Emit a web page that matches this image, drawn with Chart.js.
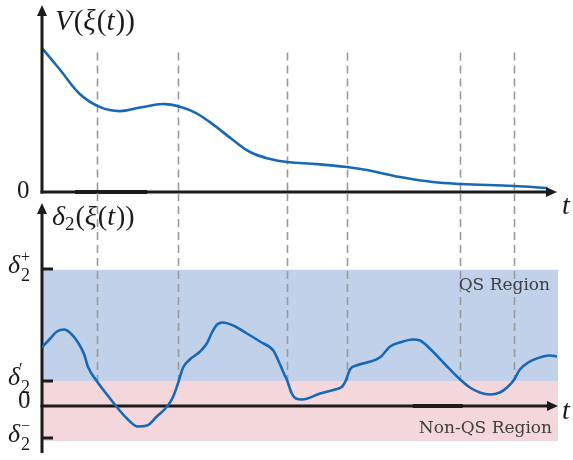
<!DOCTYPE html>
<html>
<head>
<meta charset="utf-8">
<script src="https://cdn.jsdelivr.net/npm/chart.js@4.4.1/dist/chart.umd.min.js"></script>
<style>
  html, body { margin: 0; padding: 0; background: #ffffff; }
  #wrap { position: relative; width: 573px; height: 460px; }
  #wrap canvas { position: absolute; left: 0; top: 0; }
</style>
</head>
<body>
<div id="wrap">
  <canvas id="vChart" width="573" height="460"></canvas>
  <canvas id="dChart" width="573" height="460"></canvas>
</div>
<script>
// Lyapunov-like function V(ξ(t)) over time
const timeV = [0, 0.35, 0.74, 1.13, 1.51, 1.90, 2.39, 2.87, 3.26, 3.71, 4.04, 4.43, 4.76, 5.34, 5.92,
               6.31, 6.95, 7.59, 8.12, 9.17, 9.81];
const valueV = [1.00, 0.85, 0.68, 0.59, 0.5625, 0.587, 0.611, 0.569, 0.486, 0.361, 0.278, 0.229, 0.208, 0.194, 0.174,
                0.153, 0.104, 0.069, 0.056, 0.042, 0.028];

// Quasi-static margin δ2(ξ(t)) over time
const timeD = [0, 0.16, 0.29, 0.43, 0.54, 0.70, 0.82, 0.89, 1.07, 1.26, 1.46, 1.65, 1.86, 2.04, 2.23, 2.43,
               2.54, 2.64, 2.74, 2.87, 3.07, 3.20, 3.30, 3.40, 3.51, 3.75, 3.98, 4.23, 4.49, 4.58, 4.68,
               4.76, 4.85, 4.93, 5.05, 5.40, 5.69, 5.83, 5.90, 5.98, 6.10, 6.31, 6.56, 6.76, 6.95, 7.20,
               7.34, 7.53, 7.83, 8.12, 8.31, 8.50, 8.70, 8.89, 9.03, 9.17, 9.28, 9.44, 9.73, 9.86, 10.0];
const valueD = [2.34, 2.70, 2.98, 3.06, 2.94, 2.54, 2.06, 1.58, 0.98, 0.46, -0.06, -0.50, -0.82, -0.78, -0.42, -0.02,
                0.34, 0.90, 1.54, 1.86, 2.18, 2.50, 2.94, 3.26, 3.34, 3.18, 2.90, 2.58, 2.22, 1.86, 1.38,
                1.02, 0.50, 0.30, 0.26, 0.50, 0.66, 0.78, 1.02, 1.46, 1.62, 1.74, 1.94, 2.38, 2.54, 2.66,
                2.62, 2.30, 1.66, 1.06, 0.74, 0.54, 0.46, 0.54, 0.74, 1.06, 1.46, 1.74, 1.98, 2.02, 1.98];

// switching instants marked by dashed lines
const switchTimes = [1.07, 2.64, 4.76, 5.92, 8.12, 9.17];

// thresholds on δ2 and the shaded bands
const deltaTickValues = [5.5, 1, -1.28];
const deltaTickNames = ['+', '′', '−'];
const qsBand = [1, 5.45];
const nonQsBand = [-1.4, 1];

const AXIS = '#1b1b1b';
const CURVE = '#1769b5';
const DASH = '#9a9a9a';
const SERIF = '"Liberation Serif", "DejaVu Serif", serif';
const CAPTION = '"DejaVu Serif", serif';

function arrowHead(ctx, x, y, dir) {
  ctx.save();
  ctx.fillStyle = AXIS;
  ctx.beginPath();
  if (dir === 'up') {
    ctx.moveTo(x, y); ctx.lineTo(x - 5, y + 11); ctx.lineTo(x + 5, y + 11);
  } else {
    ctx.moveTo(x, y); ctx.lineTo(x - 11, y - 5); ctx.lineTo(x - 11, y + 5);
  }
  ctx.closePath();
  ctx.fill();
  ctx.restore();
}

function line(ctx, x1, y1, x2, y2, w) {
  ctx.save();
  ctx.strokeStyle = AXIS;
  ctx.lineWidth = w;
  ctx.beginPath();
  ctx.moveTo(x1, y1); ctx.lineTo(x2, y2);
  ctx.stroke();
  ctx.restore();
}

// draws a run of text pieces: [text, italic, size, baselineShift, extraGap]
function mathText(ctx, x, y, pieces) {
  ctx.save();
  ctx.fillStyle = '#1b1b1b';
  ctx.textBaseline = 'alphabetic';
  ctx.textAlign = 'left';
  let cx = x;
  for (const [txt, ital, size, dy, gap] of pieces) {
    ctx.font = (ital ? 'italic ' : '') + size + 'px ' + SERIF;
    ctx.fillText(txt, cx, y + (dy || 0));
    cx += ctx.measureText(txt).width + (gap || 0);
  }
  ctx.restore();
}

function dashedLines(ctx, xs, yTop, yBottom) {
  ctx.save();
  ctx.strokeStyle = DASH;
  ctx.lineWidth = 1.6;
  ctx.setLineDash([8, 5]);
  for (const px of xs) {
    ctx.beginPath();
    ctx.moveTo(Math.round(px) + 0.5, yTop);
    ctx.lineTo(Math.round(px) + 0.5, yBottom);
    ctx.stroke();
  }
  ctx.restore();
}

const topDecor = {
  id: 'topDecor',
  beforeDatasetsDraw(chart) {
    const { ctx, chartArea: a, scales: { x, y } } = chart;
    dashedLines(ctx, switchTimes.map(t => x.getPixelForValue(t)), y.getPixelForValue(0.97), a.bottom);
  },
  afterDatasetsDraw(chart) {
    const { ctx, chartArea: a, scales: { x, y } } = chart;
    const y0 = y.getPixelForValue(0);
    line(ctx, a.left, y0 + 1.5, a.left, a.top + 8, 3);
    arrowHead(ctx, a.left, a.top, 'up');
    line(ctx, a.left - 1.5, y0, a.right - 8, y0, 3);
    line(ctx, x.getPixelForValue(0.64), y0, x.getPixelForValue(2.04), y0, 4);
    arrowHead(ctx, a.right, y0, 'right');
    mathText(ctx, 55, 30, [['V', true, 29, 0, 1], ['(', false, 29], ['ξ', true, 29, 0, 1], ['(', false, 29], ['t', true, 29, 0, 1], ['))', false, 29]]);
    mathText(ctx, 17, 198, [['0', false, 25]]);
    mathText(ctx, 562, 214, [['t', true, 28]]);
  }
};

const bottomDecor = {
  id: 'bottomDecor',
  beforeDatasetsDraw(chart) {
    const { ctx, chartArea: a, scales: { x, y } } = chart;
    const xl = x.getPixelForValue(0), xr = x.getPixelForValue(10.02);
    ctx.save();
    ctx.fillStyle = 'rgb(193,209,234)';
    ctx.fillRect(xl, y.getPixelForValue(qsBand[1]), xr - xl, y.getPixelForValue(qsBand[0]) - y.getPixelForValue(qsBand[1]));
    ctx.fillStyle = 'rgb(244,215,219)';
    ctx.fillRect(xl, y.getPixelForValue(nonQsBand[1]), xr - xl, y.getPixelForValue(nonQsBand[0]) - y.getPixelForValue(nonQsBand[1]));
    ctx.restore();

    dashedLines(ctx, switchTimes.map(t => x.getPixelForValue(t)), a.top - 11, y.getPixelForValue(deltaTickValues[1]));

    // region captions
    ctx.save();
    ctx.fillStyle = '#404040';
    ctx.font = '17px ' + CAPTION;
    ctx.textAlign = 'right';
    ctx.fillText('QS Region', 550, 290);
    ctx.fillText('Non-QS Region', 552, 433);
    ctx.restore();

    const y0 = y.getPixelForValue(0);
    line(ctx, a.left, a.bottom + 7, a.left, a.top + 8, 3);
    arrowHead(ctx, a.left, a.top - 1, 'up');
    line(ctx, a.left - 1.5, y0, a.right - 8, y0, 3);
    line(ctx, x.getPixelForValue(7.2), y0, x.getPixelForValue(8.17), y0, 4);
    arrowHead(ctx, a.right + 1, y0, 'right');

    deltaTickValues.forEach((v, i) => {
      const py = Math.round(y.getPixelForValue(v));
      line(ctx, a.left, py, a.left + 11, py, 3);
      const base = py + 4;
      mathText(ctx, 8, base, [['δ', true, 26]]);
      mathText(ctx, 21, base + 8, [['2', false, 18]]);
      mathText(ctx, i === 1 ? 19 : 21, base - 11, [[deltaTickNames[i], false, 16]]);
    });
    mathText(ctx, 18, y0 + 2, [['0', false, 25]]);

    mathText(ctx, 52, 225, [['δ', true, 28], ['2', false, 19, 5, 1], ['(', false, 28], ['ξ', true, 28, 0, 1], ['(', false, 28], ['t', true, 28, 0, 1], ['))', false, 28]]);
    mathText(ctx, 562, 419, [['t', true, 28]]);
  }
};

function baseOptions(pad, yMin, yMax) {
  return {
    responsive: false,
    animation: false,
    devicePixelRatio: 1,
    layout: { padding: pad },
    scales: {
      x: { type: 'linear', min: 0, max: 10, display: false },
      y: { type: 'linear', min: yMin, max: yMax, display: false }
    },
    plugins: { legend: { display: false }, tooltip: { enabled: false } },
    elements: { point: { radius: 0 } }
  };
}

new Chart(document.getElementById('vChart'), {
  type: 'line',
  data: {
    datasets: [{
      data: timeV.map((t, i) => ({ x: t, y: valueV[i] })),
      borderColor: CURVE,
      borderWidth: 2.6,
      tension: 0.4,
      fill: false
    }]
  },
  options: baseOptions({ left: 42, right: 16, top: 5, bottom: 268 }, 0, 1.3),
  plugins: [topDecor]
});

new Chart(document.getElementById('dChart'), {
  type: 'line',
  data: {
    datasets: [{
      data: timeD.map((t, i) => ({ x: t, y: valueD[i] })),
      borderColor: CURVE,
      borderWidth: 2.6,
      cubicInterpolationMode: 'monotone',
      fill: false
    }]
  },
  options: baseOptions({ left: 42, right: 16, top: 204, bottom: 14 }, -1.6, 8.08),
  plugins: [bottomDecor]
});
</script>
</body>
</html>
